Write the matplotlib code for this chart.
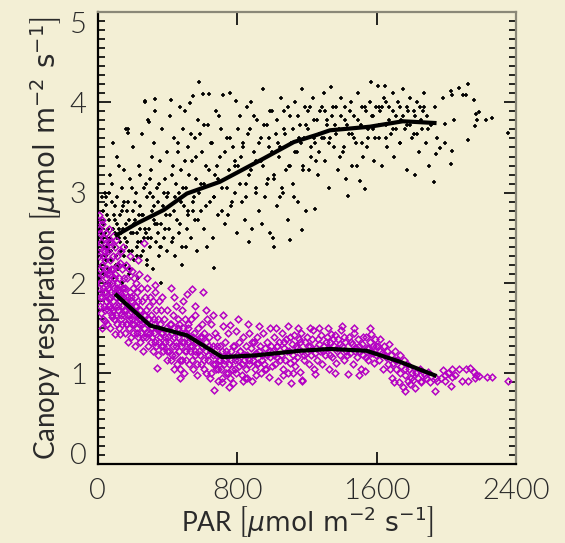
import numpy as np
import matplotlib.pyplot as plt
from matplotlib.ticker import MultipleLocator

# black cloud (upper), PAR vs canopy respiration
black_par = [10, 15, 20, 25, 30, 35, 40, 45, 50, 55, 60, 65, 70, 75, 80, 85, 90, 95, 100, 105, 110, 115, 120, 125, 130, 135, 140, 145, 150,
             12, 28, 48, 62, 78, 88, 98, 108, 118, 128, 138, 148, 33, 58, 73, 93, 113, 133, 143, 22, 68, 46,
             155, 160, 165, 170, 175, 180, 185, 190, 195, 200, 205, 210, 215, 220, 225, 230, 235, 240, 245, 250, 255, 260, 265, 270,
             275, 280, 285, 290, 295, 300, 305, 310, 315, 320, 325, 330, 335, 340, 345, 350, 355, 360, 365, 370, 375, 380, 385, 390,
             395, 400, 168, 198, 228, 258, 288, 318, 348, 378, 242, 312, 172, 172, 269, 328, 292,
             405, 410, 415, 420, 425, 430, 435, 440, 445, 450, 455, 460, 465, 470, 475, 480, 485, 490, 495, 500, 505, 510, 515, 520,
             525, 530, 535, 540, 545, 550, 555, 560, 565, 570, 575, 578, 580, 590, 600, 603, 610, 620, 630, 638, 645, 655, 660, 670,
             680, 690, 700, 710, 721, 730, 740, 750, 757, 765, 775, 785, 792, 798, 432, 468, 508, 548, 588, 628, 668, 708, 748, 788,
             612, 688, 667, 483,
             805, 815, 825, 835, 845, 855, 865, 875, 885, 895, 905, 915, 925, 935, 945, 950, 960, 970, 980, 990, 1000, 1010, 1020, 1030,
             1040, 1050, 1060, 1070, 1080, 1090, 1100, 1110, 1120, 1130, 1140, 1150, 1160, 1169, 1175, 1185, 1195, 820, 850, 880, 910,
             940, 975, 1005, 1035, 1065, 1095, 1125, 1155, 1190, 870, 990, 1045, 1009, 1101, 1170, 1245,
             1205, 1215, 1225, 1235, 1245, 1255, 1265, 1275, 1285, 1295, 1305, 1315, 1325, 1339, 1345, 1355, 1365, 1375, 1385, 1395,
             1405, 1415, 1425, 1433, 1440, 1450, 1460, 1470, 1480, 1490, 1505, 1510, 1520, 1530, 1540, 1550, 1560, 1568, 1575, 1585,
             1595, 1210, 1240, 1270, 1300, 1330, 1360, 1390, 1420, 1455, 1485, 1515, 1545, 1580,
             1604, 1610, 1620, 1630, 1640, 1644, 1650, 1660, 1670, 1680, 1690, 1700, 1710, 1720, 1730, 1740, 1750, 1760, 1770, 1780,
             1790, 1800, 1816, 1820, 1830, 1840, 1850, 1860, 1870, 1880, 1890, 1900, 1910, 1925, 1935, 1945, 1615, 1655, 1695, 1735,
             1775, 1815, 1865,
             1977, 2026, 2033, 2068, 2091, 2113, 2125, 2154, 2166, 2183, 2175, 2164, 2228, 2261, 2349, 2125, 2040, 1988, 1988, 1959,
             1940, 2032, 2026]
black_resp = [2.35, 2.6, 2.2, 2.45, 2.8, 2.1, 2.55, 2.3, 2.95, 2.4, 2.15, 2.7, 2.5, 2.25, 3.1, 2.6, 2.05, 2.4, 2.85, 2.3, 2.65, 2.15, 2.5, 3.3, 2.75, 2.35, 2.0, 2.6, 2.9,
              2.05, 2.65, 2.25, 3.0, 2.35, 3.55, 2.55, 2.95, 2.2, 2.45, 3.05, 2.3, 2.5, 2.6, 2.15, 2.75, 3.4, 2.55, 2.85, 2.95, 3.2, 2.86,
              2.2, 2.65, 3.7, 2.45, 2.9, 2.1, 3.15, 2.55, 2.35, 2.8, 3.5, 2.25, 2.7, 3.0, 2.4, 2.05, 3.3, 2.6, 2.85, 2.3, 3.65, 2.75, 2.5, 4.0,
              3.1, 2.2, 2.95, 3.8, 2.6, 2.4, 3.25, 2.8, 2.15, 3.55, 2.7, 3.9, 2.45, 3.05, 2.9, 2.3, 3.35, 2.65, 2.0, 3.7, 2.85, 2.5, 3.15, 2.75,
              3.45, 2.35, 2.8, 3.05, 2.55, 2.35, 2.5, 2.95, 2.55, 3.0, 3.2, 3.4, 3.7, 3.66, 4.01, 4.04, 3.78,
              3.0, 2.6, 3.85, 4.02, 2.45, 3.3, 2.8, 3.6, 2.3, 3.1, 2.7, 3.45, 2.55, 3.95, 2.9, 3.25, 2.4, 3.7, 2.85, 3.9, 3.05, 2.6, 3.5, 2.75,
              3.2, 3.99, 2.5, 3.35, 4.07, 2.95, 3.6, 2.7, 3.15, 2.35, 3.8, 4.22, 3.0, 2.8, 3.45, 4.09, 2.6, 3.3, 3.75, 4.09, 2.9, 3.55, 2.5, 3.2,
              3.9, 2.75, 3.4, 3.05, 4.08, 2.65, 3.6, 3.25, 4.1, 2.85, 3.5, 3.0, 4.01, 2.55, 2.5, 3.0, 2.4, 2.8, 3.65, 2.4, 2.95, 3.7, 2.75, 3.35,
              3.1, 3.15, 2.17, 2.2,
              3.3, 3.85, 2.9, 3.55, 2.7, 3.95, 3.2, 3.7, 2.6, 3.45, 3.05, 3.8, 2.8, 3.6, 3.3, 4.15, 2.95, 3.75, 3.5, 2.55, 3.9, 3.15, 3.65, 2.85,
              3.4, 4.05, 3.0, 3.7, 3.25, 2.7, 3.85, 3.55, 3.1, 4.0, 3.45, 2.9, 3.75, 4.15, 3.3, 3.6, 2.8, 3.4, 3.1, 4.0, 3.35,
              2.65, 3.15, 2.5, 3.55, 3.9, 3.3, 2.95, 3.6, 3.95, 2.45, 3.9, 2.95, 2.4, 2.48, 2.59, 2.82,
              3.7, 3.95, 3.4, 4.05, 3.55, 3.8, 3.2, 3.9, 3.6, 4.1, 3.35, 3.75, 3.05, 4.17, 3.85, 3.5, 3.95, 3.25, 3.7, 4.05,
              3.45, 3.8, 3.15, 2.96, 3.65, 4.0, 3.3, 3.85, 3.55, 4.1, 3.13, 3.75, 3.4, 3.04, 3.9, 3.6, 4.0, 4.22, 3.7, 3.35,
              3.95, 3.25, 3.6, 3.45, 3.9, 3.6, 3.75, 3.4, 3.95, 3.65, 3.3, 3.95, 3.5, 3.85,
              4.18, 3.6, 3.9, 3.3, 4.05, 4.18, 3.75, 3.5, 3.95, 3.65, 4.1, 3.4, 3.85, 4.0, 3.55, 3.8, 4.15, 3.7, 3.25, 3.9,
              4.05, 3.6, 3.2, 3.85, 4.0, 3.45, 3.95, 3.7, 4.1, 3.55, 3.85, 3.3, 3.75, 3.12, 3.95, 3.6, 3.95, 4.0, 3.7, 3.95,
              3.75, 3.65, 3.9,
              4.05, 4.13, 4.08, 4.16, 4.08, 4.08, 4.2, 4.02, 3.87, 3.89, 3.8, 3.74, 3.8, 3.83, 3.66, 3.58, 3.8, 3.76, 3.55, 3.49,
              3.43, 3.46, 3.32]
# more black points, filling the dense part of the cloud
black_par_more = [3, 7, 17, 27, 37, 43, 53, 63, 83, 103, 123, 153, 163, 178, 188, 203, 213, 223, 238, 248, 263, 273, 283, 298, 308,
                  323, 338, 353, 363, 383, 398,
                  18, 38, 52, 67, 82, 97, 112, 127, 142, 157, 182, 207, 232, 252, 277, 302, 327, 357,
                  412, 428, 442, 458, 472, 488, 502, 518, 532, 547, 562, 577, 592, 607, 622, 637, 652, 667, 682, 697,
                  712, 727, 742, 757, 772, 787, 802, 818, 833, 848, 863, 878, 893, 908, 923, 938, 953, 968, 983, 998,
                  1013, 1028, 1043, 1058, 1073, 1088, 1103, 1118, 1133, 1148, 1163, 1178, 1193, 1208, 1223, 1238, 1253, 1268, 1283, 1298,
                  1312, 1328, 1348, 1368, 1392, 1412, 1428, 1448, 1468, 1492, 1512, 1532, 1552, 1572, 1592, 1612, 1632, 1652, 1672, 1692,
                  1712, 1732, 1752, 1772, 1792, 1812, 1832, 1852, 1872, 1892]
black_resp_more = [2.45, 2.7, 2.3, 2.15, 2.65, 3.0, 2.5, 2.35, 2.9, 2.2, 2.6, 3.25, 2.4, 2.7, 2.15, 2.55, 2.9, 2.3, 2.75, 2.45, 3.05, 2.6, 2.25, 3.15, 2.5,
                   2.85, 2.65, 3.1, 2.4, 2.6, 2.95,
                   2.55, 2.4, 2.75, 2.45, 2.25, 2.7, 2.5, 2.35, 2.8, 2.5, 2.35, 2.65, 2.45, 2.75, 2.55, 3.0, 2.65, 2.4,
                   2.75, 3.2, 2.95, 3.55, 2.65, 3.05, 3.35, 2.8, 3.65, 2.9, 3.4, 2.7, 3.1, 3.75, 2.85, 3.25, 3.55, 2.95, 3.3, 3.85,
                   2.8, 3.45, 3.05, 3.6, 2.9, 3.3, 3.7, 3.1, 3.5, 2.95, 3.65, 3.25, 3.85, 3.0, 3.55, 3.35, 3.75, 3.1, 3.6, 3.45,
                   3.2, 3.8, 3.5, 3.05, 3.65, 3.95, 3.3, 3.7, 3.45, 3.85, 3.55, 3.25, 3.75, 3.9, 3.5, 3.8, 3.35, 3.65, 3.95, 3.6,
                   3.8, 3.55, 3.95, 3.65, 3.85, 3.5, 3.75, 3.9, 3.6, 3.8, 3.55, 3.95, 3.7, 3.85, 3.6, 3.75, 3.95, 3.6, 3.8, 3.9,
                   3.7, 3.55, 3.85, 3.95, 3.75, 3.9, 3.65, 3.8, 3.95, 3.7]

# magenta cloud (lower)
mag_par = [5, 8, 10, 12, 15, 18, 19, 20, 22, 25, 28, 30, 32, 35, 38, 40, 42, 45, 48, 50, 52, 55, 58, 60, 62, 65, 68, 70, 72, 75,
           78, 80, 82, 85, 88, 90, 92, 95, 98, 99, 100, 102, 105, 108, 110, 112, 115, 118, 120, 122, 125, 128, 130, 132, 135, 138,
           140, 142, 145, 148, 150, 6, 14, 26, 36, 46, 56, 66, 76, 86, 96, 106, 116, 126, 136, 146, 24, 44, 64, 84,
           155, 158, 160, 163, 165, 168, 170, 173, 175, 178, 180, 183, 185, 188, 190, 193, 196, 198, 200, 203, 205, 208, 210, 213,
           215, 218, 220, 223, 225, 228, 230, 233, 236, 238, 240, 243, 246, 248, 250, 255, 258, 263, 265, 268, 270, 275, 278, 280,
           285, 288, 290, 295, 298, 300, 305, 308, 310, 315, 318, 320, 325, 328, 330, 335, 339, 340, 345, 348, 350, 355, 358, 360,
           365, 370, 375, 380, 385, 390, 395, 400, 230, 280, 330, 370,
           405, 410, 415, 420, 422, 425, 430, 433, 436, 440, 443, 446, 450, 455, 458, 460, 465, 468, 471, 475, 478, 482, 485, 488,
           492, 495, 498, 502, 505, 508, 512, 515, 518, 522, 525, 530, 535, 540, 542, 545, 550, 555, 560, 565, 570, 575, 580, 585,
           590, 595, 600, 603, 607, 612, 618, 622, 628, 632, 638, 642, 648, 652, 658, 662, 667, 672, 676, 680, 685, 690, 695, 700,
           440, 490, 560, 620, 660, 470,
           705, 710, 715, 721, 725, 730, 735, 740, 745, 750, 757, 760, 765, 770, 775, 780, 785, 792, 795, 800, 808, 812, 818, 825,
           830, 835, 840, 848, 852, 858, 865, 870, 878, 883, 888, 895, 900, 908, 915, 920, 928, 935, 940, 948, 952, 960, 965, 972,
           979, 985, 992, 998, 720, 805, 860, 925, 990, 750, 845, 910,
           1005, 1012, 1018, 1025, 1030, 1036, 1040, 1048, 1055, 1060, 1068, 1075, 1082, 1088, 1095, 1100, 1106, 1112, 1118, 1125,
           1130, 1138, 1145, 1152, 1158, 1165, 1168, 1170, 1173, 1180, 1188, 1195, 1202, 1210, 1218, 1225, 1232, 1238, 1244, 1250,
           1258, 1265, 1272, 1280, 1288, 1295, 1020, 1090, 1150, 1215, 1270, 1060, 1120,
           1305, 1312, 1318, 1325, 1332, 1339, 1345, 1352, 1358, 1365, 1372, 1380, 1388, 1395, 1402, 1410, 1418, 1425, 1433, 1440,
           1448, 1455, 1462, 1470, 1478, 1485, 1492, 1500, 1508, 1515, 1522, 1530, 1535, 1542, 1550, 1558, 1565, 1568, 1575, 1582,
           1590, 1597, 1320, 1400, 1470, 1560, 1360, 1500,
           1605, 1612, 1620, 1628, 1635, 1642, 1650, 1658, 1665, 1672, 1680, 1688, 1695, 1702, 1710, 1718, 1725, 1732, 1740, 1748,
           1755, 1762, 1770, 1778, 1785, 1792, 1800, 1808, 1816, 1825, 1835, 1845, 1855, 1868, 1880, 1895, 1910, 1931, 1945, 1700,
           1760,
           1979, 1988, 1988, 2026, 2032, 2032, 2070, 2108, 2125, 2131, 2154, 2165, 2169, 2188, 2232, 2261, 2350, 1965, 2005, 2050,
           2090]
mag_resp = [2.3, 1.95, 2.6, 1.75, 2.15, 2.45, 1.67, 2.0, 2.7, 1.85, 2.3, 1.6, 2.1, 2.5, 1.9, 2.25, 1.7, 2.05, 2.4, 1.8, 2.15, 1.55, 2.35, 1.95, 2.6, 1.75, 2.1, 1.5, 2.25, 1.9,
            2.45, 1.65, 2.0, 2.3, 1.8, 2.15, 1.6, 1.95, 2.4, 1.44, 1.75, 2.1, 1.85, 2.3, 1.55, 2.0, 1.7, 2.2, 1.9, 1.5, 2.05, 1.44, 1.8, 2.35, 1.65, 1.95,
            2.15, 1.55, 1.85, 2.05, 1.7, 2.75, 2.55, 2.65, 2.35, 2.55, 1.98, 2.45, 1.72, 2.52, 2.05, 2.48, 1.92, 2.22, 1.88, 2.4, 1.5, 1.58, 1.82, 1.62,
            1.95, 1.45, 2.2, 1.7, 1.55, 2.05, 1.85, 1.35, 1.65, 2.15, 1.5, 1.9, 1.75, 2.3, 1.4, 1.8, 2.13, 1.6, 1.95, 1.45, 1.7, 2.05, 1.55, 1.85,
            1.3, 1.75, 2.0, 1.5, 1.65, 1.9, 1.4, 1.8, 1.55, 2.1, 1.35, 1.7, 1.6, 1.95, 1.45, 1.8, 1.25, 2.44, 1.65, 1.5, 1.85, 1.4, 1.7, 1.55,
            1.95, 1.3, 1.6, 1.75, 1.45, 1.85, 1.35, 1.65, 1.5, 1.8, 1.25, 1.6, 1.45, 1.9, 1.35, 1.7, 1.06, 1.5, 1.6, 1.2, 1.8, 1.4, 1.55, 1.3,
            1.7, 1.45, 1.25, 1.6, 1.35, 1.5, 1.15, 1.7, 2.25, 2.05, 1.98, 1.85,
            1.4, 1.25, 1.55, 1.94, 1.15, 1.45, 1.3, 1.65, 1.05, 1.5, 1.2, 1.75, 1.35, 1.1, 1.6, 1.4, 1.25, 1.55, 1.05, 1.45, 1.3, 1.7, 1.15, 1.5,
            1.35, 1.0, 1.6, 1.25, 1.45, 1.15, 1.88, 1.35, 1.55, 1.1, 1.4, 1.25, 1.6, 1.93, 1.3, 1.05, 1.45, 1.2, 1.65, 1.35, 0.98, 1.5, 1.25, 1.4,
            1.1, 1.55, 1.3, 1.9, 1.15, 1.45, 1.0, 1.35, 1.6, 1.2, 1.4, 0.95, 1.25, 1.55, 1.1, 1.3, 0.82, 1.45, 1.05, 1.2, 1.4, 0.92, 1.15, 1.3,
            1.85, 1.8, 1.75, 1.7, 1.65, 0.95,
            1.05, 1.25, 0.9, 1.52, 1.15, 1.35, 1.0, 1.2, 1.45, 1.1, 1.53, 0.95, 1.25, 1.05, 0.89, 1.3, 1.15, 1.47, 1.0, 1.2, 1.35, 1.08, 1.25, 0.98,
            1.4, 0.91, 1.15, 1.3, 1.05, 1.2, 1.45, 1.1, 1.28, 0.91, 1.15, 1.35, 1.05, 1.22, 1.4, 1.12, 1.3, 1.0, 1.2, 1.45, 1.1, 1.28, 1.05, 1.35,
            0.96, 1.18, 1.3, 1.08, 1.65, 1.6, 1.55, 1.52, 1.5, 0.85, 0.95, 0.98,
            1.25, 1.4, 1.1, 1.3, 1.18, 0.91, 1.35, 1.2, 1.45, 1.05, 1.28, 1.15, 1.38, 1.0, 1.25, 1.12, 0.89, 1.32, 1.2, 1.42,
            1.08, 1.3, 1.18, 1.38, 1.02, 1.25, 1.45, 0.92, 0.93, 1.15, 1.35, 1.22, 1.4, 1.1, 1.3, 1.2, 1.48, 1.05, 0.99, 1.28,
            1.15, 1.38, 1.25, 1.42, 1.1, 1.3, 1.5, 1.52, 1.5, 1.5, 1.5, 0.98, 1.0,
            1.2, 1.4, 1.28, 1.05, 1.35, 1.44, 1.18, 1.3, 1.42, 1.12, 1.25, 1.38, 1.2, 1.48, 1.3, 1.15, 1.35, 1.25, 0.99, 1.4,
            1.22, 1.32, 1.1, 1.45, 1.28, 1.18, 1.38, 1.25, 1.05, 1.32, 1.2, 1.03, 1.4, 1.28, 1.15, 1.35, 1.22, 1.44, 1.3, 1.12,
            1.38, 1.2, 1.5, 1.52, 1.5, 1.5, 1.0, 0.98,
            1.3, 1.15, 1.38, 1.22, 1.05, 1.3, 1.18, 1.25, 1.1, 1.32, 1.2, 0.95, 1.12, 1.25, 1.05, 1.15, 0.9, 1.2, 1.08, 0.85,
            1.15, 0.98, 1.1, 0.92, 1.05, 0.88, 1.0, 0.93, 0.84, 1.02, 0.95, 1.05, 0.9, 1.0, 0.95, 1.02, 0.97, 0.81, 0.92, 0.9,
            0.8,
            1.04, 0.98, 0.91, 0.86, 0.96, 1.05, 1.05, 1.05, 0.91, 1.06, 1.02, 0.95, 0.98, 0.97, 0.96, 0.96, 0.91, 0.95, 1.0, 0.98,
            0.92]
mag_par_more = [3, 9, 16, 23, 29, 34, 41, 47, 53, 59, 67, 73, 79, 87, 93, 101, 107, 113, 119, 127, 133, 139, 147, 153, 161,
                167, 176, 182, 191, 199, 207, 216, 226, 235, 244, 253, 262, 272, 283, 293, 303, 313, 323, 333, 344, 354, 364, 376, 388, 398,
                408, 418, 428, 438, 448, 462, 473, 484, 496, 506, 517, 528, 538, 548, 558, 568, 578, 588, 598, 609, 619, 630, 640, 650, 660,
                670, 682, 692, 702, 712, 724, 736, 748, 762, 776, 788, 802, 816, 828, 842, 856, 868, 882, 896, 912, 926, 942, 956, 970, 986,
                1008, 1028, 1046, 1066, 1086, 1104, 1124, 1142, 1162, 1184, 1206, 1228, 1248, 1268, 1290, 1310, 1330, 1350, 1370, 1390,
                1410, 1430, 1452, 1474, 1496, 1518, 1538, 1556, 1576, 1594,
                1618, 1646, 1676, 1704, 1734, 1764, 1794, 1822, 1852, 1878, 1905, 1938]
mag_resp_more = [2.05, 2.4, 1.85, 2.2, 1.95, 1.75, 2.35, 1.9, 2.1, 1.7, 2.0, 1.85, 2.15, 1.7, 2.05, 1.9, 1.65, 1.95, 1.75, 1.85, 1.6, 1.75, 1.95, 1.65, 1.8,
                 1.55, 1.75, 1.6, 1.85, 1.55, 1.65, 1.75, 1.45, 1.6, 1.7, 1.55, 1.4, 1.65, 1.45, 1.6, 1.5, 1.4, 1.55, 1.3, 1.5, 1.35, 1.45, 1.3, 1.4, 1.25,
                 1.35, 1.55, 1.2, 1.4, 1.3, 1.5, 1.15, 1.35, 1.45, 1.25, 1.5, 1.3, 1.15, 1.4, 1.25, 1.1, 1.35, 1.2, 1.4, 1.05, 1.25, 1.15, 1.3, 1.0, 1.2,
                 1.1, 1.3, 1.05, 1.15, 0.95, 1.1, 1.25, 1.0, 1.15, 1.3, 1.05, 1.15, 1.25, 1.1, 1.2, 0.95, 1.15, 1.35, 1.2, 1.1, 1.25, 1.15, 1.05, 1.2, 1.25,
                 1.2, 1.3, 1.15, 1.35, 1.25, 1.4, 1.15, 1.28, 1.35, 1.2, 1.3, 1.38, 1.22, 1.32, 1.25, 1.35, 1.2, 1.38, 1.28, 1.32,
                 1.4, 1.2, 1.35, 1.25, 1.3, 1.4, 1.18, 1.28, 1.22, 1.3,
                 1.25, 1.2, 1.05, 1.15, 1.0, 1.05, 0.95, 1.0, 0.92, 0.98, 0.9, 0.95]

# smoothed curves
fit_black_par = [99, 225, 380, 511, 700, 953, 1124, 1256, 1331, 1560, 1749, 1942]
fit_black_resp = [2.52, 2.66, 2.81, 2.99, 3.12, 3.38, 3.56, 3.64, 3.69, 3.73, 3.79, 3.77]
fit_mag_par = [99, 300, 512, 713, 912, 1159, 1331, 1541, 1730, 1942]
fit_mag_resp = [1.88, 1.53, 1.42, 1.18, 1.20, 1.25, 1.27, 1.25, 1.13, 0.97]

bx = np.concatenate([black_par, black_par_more])
by = np.concatenate([black_resp, black_resp_more])
mx = np.concatenate([mag_par, mag_par_more])
my = np.concatenate([mag_resp, mag_resp_more])

bg = '#f3efd5'
txt = '#2a2a2a'
plt.rcParams['font.family'] = ['Lato', 'DejaVu Sans']
plt.rcParams['font.weight'] = 300
plt.rcParams['mathtext.fontset'] = 'dejavusans'

fig = plt.figure(figsize=(5.65, 5.43), dpi=100, facecolor=bg)
ax = fig.add_axes([0.1729, 0.146, 0.7412, 0.832], facecolor=bg)

ax.plot(bx, by, '+', color='black', ms=3.0, mew=1.2, zorder=2)
ax.plot(mx, my, 'D', mfc='none', mec='#b400c4', ms=3.4, mew=1.1, zorder=3)
ax.plot(fit_black_par, fit_black_resp, color='black', lw=3, solid_capstyle='butt', zorder=4)
ax.plot(fit_mag_par, fit_mag_resp, color='black', lw=3, solid_capstyle='butt', zorder=4)

ax.set_xlim(0, 2400)
ax.set_ylim(0, 5)
ax.set_xticks([0, 800, 1600, 2400])
ax.set_yticks([0, 1, 2, 3, 4, 5])
ax.yaxis.set_minor_locator(MultipleLocator(0.1))
ax.tick_params(axis='both', which='both', direction='in', colors='black', labelcolor=txt,
               labelsize=21, right=True, top=True, width=1.2)
ax.tick_params(axis='both', which='major', length=9, pad=8)
ax.tick_params(axis='y', which='minor', length=5)
ax.tick_params(axis='x', which='major', pad=10)

for s in ['left', 'bottom']:
    ax.spines[s].set_color('black')
    ax.spines[s].set_linewidth(1.6)
for s in ['top', 'right']:
    ax.spines[s].set_color('#8a8878')
    ax.spines[s].set_linewidth(1.6)

# end labels are pulled inside the frame
ylabs = ax.get_yticklabels()
ylabs[-1].set_va('top')
ylabs[0].set_va('baseline')

ax.set_xlabel(r'PAR $\left[\mu\mathrm{mol\ m^{-2}\ s^{-1}}\right]$', fontsize=19, color=txt, labelpad=0)
ax.set_ylabel(r'Canopy respiration $\left[\mu\mathrm{mol\ m^{-2}\ s^{-1}}\right]$', fontsize=20, color=txt, labelpad=4)

fig.savefig('out.png', dpi=100, facecolor=bg)
